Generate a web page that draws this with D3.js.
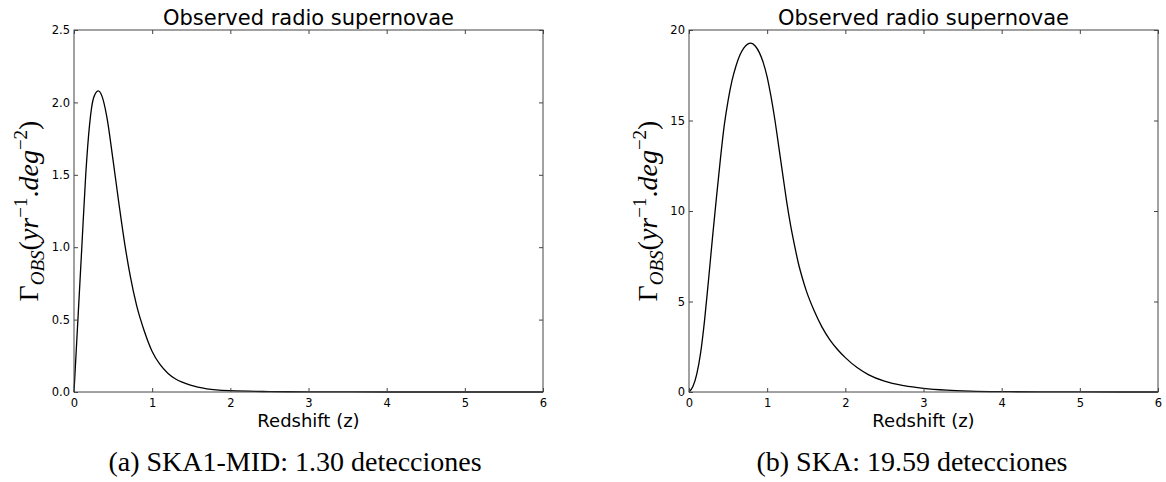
<!DOCTYPE html>
<html>
<head>
<meta charset="utf-8">
<script src="https://cdn.jsdelivr.net/npm/d3@7"></script>
<style>
  body { margin: 0; background: #fff; }
  svg { display: block; }
</style>
</head>
<body>
<div id="chart"></div>
<script>
// redshift samples and observed rates
var zMid = [0, 0.05, 0.1, 0.15, 0.2, 0.25, 0.31, 0.36, 0.42, 0.5, 0.58, 0.65, 0.72, 0.8, 0.9, 1.0, 1.1, 1.2, 1.3, 1.4, 1.5, 1.7, 2.0, 2.5, 3.0, 4.0, 6.0];
var rateMid = [0, 0.5, 1.0, 1.5, 1.85, 2.03, 2.08, 2.04, 1.9, 1.6, 1.28, 1.02, 0.8, 0.6, 0.42, 0.28, 0.19, 0.13, 0.09, 0.065, 0.045, 0.022, 0.009, 0.003, 0.001, 0, 0];

var zSka = [0, 0.05, 0.1, 0.15, 0.2, 0.25, 0.3, 0.35, 0.4, 0.45, 0.5, 0.55, 0.6, 0.65, 0.7, 0.75, 0.79, 0.85, 0.9, 0.95, 1.0, 1.05, 1.1, 1.15, 1.2, 1.25, 1.3, 1.35, 1.4, 1.45, 1.5, 1.6, 1.7, 1.8, 1.9, 2.0, 2.15, 2.3, 2.5, 2.75, 3.0, 3.3, 3.6, 4.0, 4.5, 5.0, 6.0];
var rateSka = [0, 0.3, 1.0, 2.2, 4.0, 6.2, 8.5, 10.7, 12.8, 14.7, 16.1, 17.2, 18.0, 18.6, 19.0, 19.22, 19.27, 19.1, 18.75, 18.2, 17.4, 16.3, 15.0, 13.5, 12.0, 10.5, 9.2, 8.1, 7.1, 6.3, 5.6, 4.5, 3.6, 2.9, 2.35, 1.9, 1.35, 0.95, 0.6, 0.35, 0.2, 0.1, 0.05, 0.02, 0.007, 0.002, 0];

var xTicks = [0, 1, 2, 3, 4, 5, 6];
var yTicksMid = [0, 0.5, 1.0, 1.5, 2.0, 2.5];
var yTicksSka = [0, 5, 10, 15, 20];

var title = "Observed radio supernovae";
var xLabel = "Redshift (z)";
var captionMid = "(a) SKA1-MID: 1.30 detecciones";
var captionSka = "(b) SKA: 19.59 detecciones";

var width = 1166, height = 482;

var svg = d3.select("#chart").append("svg")
    .attr("width", width)
    .attr("height", height);

svg.append("rect").attr("width", width).attr("height", height).attr("fill", "#fff");

function panel(opt) {
    var x = d3.scaleLinear().domain([0, 6]).range([opt.left, opt.right]);
    var y = d3.scaleLinear().domain([0, opt.yMax]).range([opt.bottom, opt.top]);

    var g = svg.append("g");

    var pts = opt.zs.map(function(z, i) { return [z, opt.vals[i]]; });

    var line = d3.line()
        .x(function(d) { return x(d[0]); })
        .y(function(d) { return y(d[1]); })
        .curve(d3.curveMonotoneX);

    g.append("path")
        .datum(pts)
        .attr("d", line)
        .attr("fill", "none")
        .attr("stroke", "#000")
        .attr("stroke-width", 1.3);

    function style(ax) {
        ax.select(".domain").remove();
        ax.selectAll(".tick line").attr("stroke", "#444");
        ax.selectAll("text")
            .attr("font-family", "DejaVu Sans")
            .attr("font-size", "11.5px")
            .attr("fill", "#000");
    }

    g.append("g")
        .attr("transform", "translate(0," + opt.bottom + ")")
        .call(d3.axisBottom(x).tickValues(xTicks).tickFormat(d3.format("d")).tickSize(-4).tickPadding(6.5))
        .call(style);
    g.append("g")
        .attr("transform", "translate(0," + opt.top + ")")
        .call(d3.axisTop(x).tickValues(xTicks).tickFormat("").tickSize(-4))
        .call(style);
    g.append("g")
        .attr("transform", "translate(" + opt.left + ",0)")
        .call(d3.axisLeft(y).tickValues(opt.yTicks).tickFormat(d3.format(opt.yFmt)).tickSize(-4).tickPadding(4))
        .call(style);
    g.append("g")
        .attr("transform", "translate(" + opt.right + ",0)")
        .call(d3.axisRight(y).tickValues(opt.yTicks).tickFormat("").tickSize(-4))
        .call(style);

    g.append("rect")
        .attr("x", opt.left).attr("y", opt.top)
        .attr("width", opt.right - opt.left).attr("height", opt.bottom - opt.top)
        .attr("fill", "none").attr("stroke", "#444").attr("stroke-width", 1);

    var cx = (opt.left + opt.right) / 2;
    g.append("text")
        .attr("x", cx).attr("y", 25)
        .attr("text-anchor", "middle")
        .attr("font-family", "DejaVu Sans").attr("font-size", "21px")
        .text(title);

    g.append("text")
        .attr("x", cx).attr("y", 427)
        .attr("text-anchor", "middle")
        .attr("font-family", "DejaVu Sans").attr("font-size", "18px")
        .text(xLabel);

    g.append("text")
        .attr("x", opt.capX).attr("y", 471)
        .attr("text-anchor", "middle")
        .attr("font-family", "Liberation Serif").attr("font-size", "28px")
        .text(opt.caption);

    // rotated math label
    var yl = g.append("text")
        .attr("transform", "translate(" + opt.labelX + "," + ((opt.top + opt.bottom) / 2) + ") rotate(-90)")
        .attr("text-anchor", "middle")
        .attr("font-family", "Liberation Serif").attr("font-size", "28px");
    yl.append("tspan").text("Γ");
    yl.append("tspan").attr("font-style", "italic").attr("font-size", "19px").attr("dy", 6).text("OBS");
    yl.append("tspan").attr("dy", -6).text("(");
    yl.append("tspan").attr("font-style", "italic").text("yr");
    yl.append("tspan").attr("font-size", "19px").attr("dy", -11).text("−1");
    yl.append("tspan").attr("dy", 11).text(".");
    yl.append("tspan").attr("font-style", "italic").text("deg");
    yl.append("tspan").attr("font-size", "19px").attr("dy", -11).text("−2");
    yl.append("tspan").attr("dy", 11).text(")");
}

panel({
    left: 74, right: 543, top: 30, bottom: 392,
    yMax: 2.5, yTicks: yTicksMid, yFmt: ".1f",
    zs: zMid, vals: rateMid,
    caption: captionMid, capX: 295, labelX: 38
});

panel({
    left: 689, right: 1158, top: 30, bottom: 392,
    yMax: 20, yTicks: yTicksSka, yFmt: "d",
    zs: zSka, vals: rateSka,
    caption: captionSka, capX: 912, labelX: 657
});
</script>
</body>
</html>
